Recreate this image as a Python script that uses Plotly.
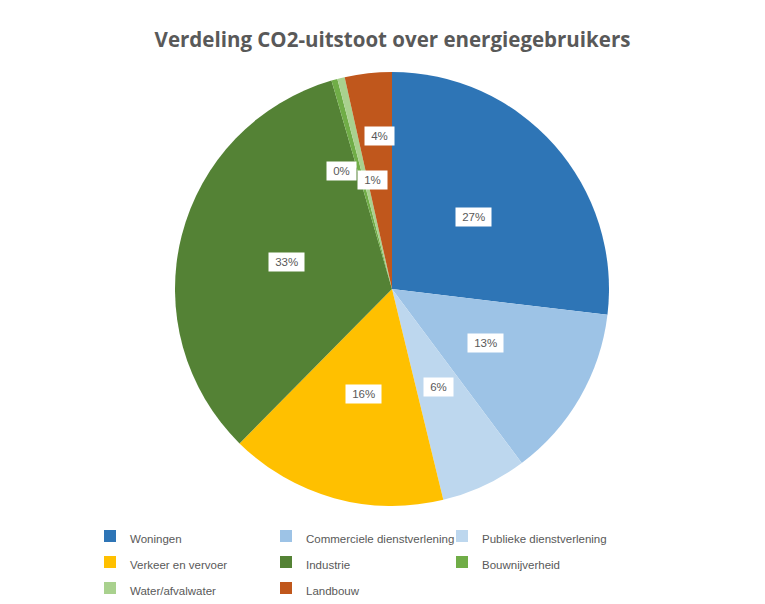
import math
import plotly.graph_objects as go

categories = ["Woningen", "Commerciele dienstverlening", "Publieke dienstverlening",
              "Verkeer en vervoer", "Industrie", "Bouwnijverheid",
              "Water/afvalwater", "Landbouw"]
values = [26.9, 12.9, 6.4, 16.2, 33.1, 0.45, 0.55, 3.5]
colors = ["#2E75B6", "#9DC3E6", "#BDD7EE", "#FFC000", "#548235",
          "#70AD47", "#A9D18E", "#C0571C"]

# label placement styling (radius fraction, angle nudge in degrees)
label_rf = [0.5, 0.5, 0.5, 0.5, 0.5, 0.59, 0.51, 0.707]
label_nudge = [0, 0, 0, 0, 0, -7.6, 3.7, 1.8]

W, H = 765, 604
ML, MR = 60, 60
PW = W - ML - MR
CX, CY, R = 384, 281, 217

fig = go.Figure(go.Pie(
    labels=[f"<span style='font-size:11.5px'>{c}</span>" for c in categories],
    values=values,
    marker=dict(colors=colors, line=dict(width=0)),
    sort=False,
    direction="clockwise",
    rotation=0,
    textinfo="none",
    hovertext=categories,
    hoverinfo="text+percent",
    domain=dict(x=[(CX - R - ML) / PW, (CX + R - ML) / PW],
                y=[1 - (CY + R) / H, 1 - (CY - R) / H]),
))

total = sum(values)
cum = 0.0
annotations = []
for v, rf, nd in zip(values, label_rf, label_nudge):
    mid = (cum + v / 2) / total * 360 + nd
    cum += v
    px = CX + rf * R * math.sin(math.radians(mid))
    py = CY - rf * R * math.cos(math.radians(mid))
    annotations.append(dict(
        x=(px - ML) / PW, y=1 - py / H, xref="paper", yref="paper",
        xanchor="center", yanchor="middle",
        text=f"\u00a0{round(v / total * 100):.0f}%\u00a0", showarrow=False,
        font=dict(family="Liberation Sans", size=11.5, color="#595959"),
        bgcolor="white", borderpad=3,
    ))

fig.update_layout(
    width=W, height=H,
    margin=dict(l=ML, r=MR, t=0, b=0),
    paper_bgcolor="white", plot_bgcolor="white",
    title=dict(text="Verdeling CO2-uitstoot over energiegebruikers",
               x=384.5 / W, xref="container", y=1 - 32 / H, yref="container",
               xanchor="center", yanchor="middle",
               font=dict(family="Open Sans", size=20.5, color="#595959", weight="bold")),
    legend=dict(orientation="h", x=(82 - ML) / PW, xanchor="left",
                y=1 - 510 / H, yanchor="top",
                entrywidth=131, entrywidthmode="pixels",
                font=dict(family="Liberation Sans", size=17.7, color="#595959"),
                itemclick=False, itemdoubleclick=False),
    annotations=annotations,
)

fig.write_html("out.html")
